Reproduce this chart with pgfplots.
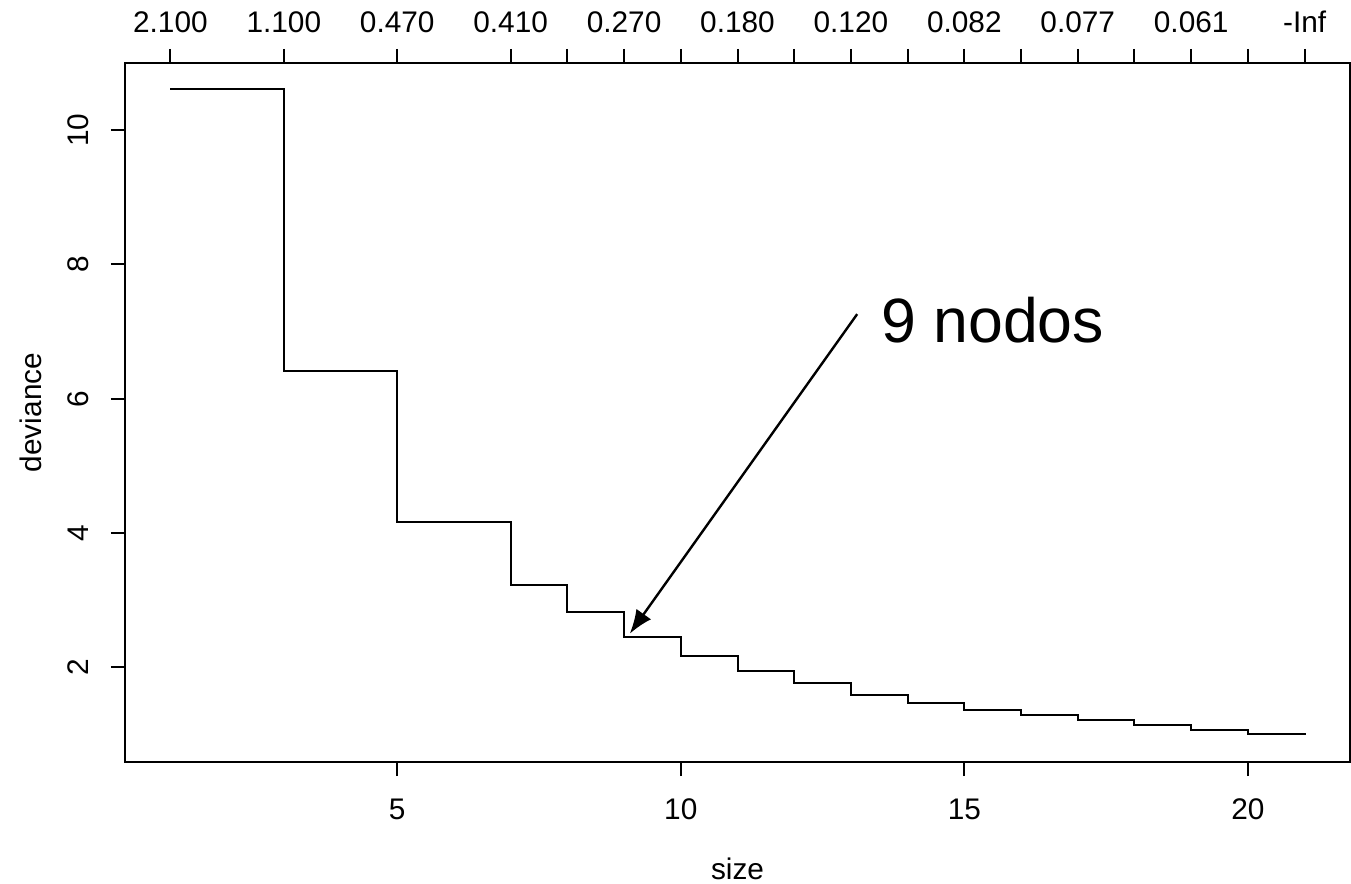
\documentclass[border=0pt]{standalone}
\usepackage{fontspec}
\setmainfont{Liberation Sans}
\usepackage{pgfplots}
\pgfplotsset{compat=1.18}
\usetikzlibrary{arrows.meta}
\begin{document}
\begin{tikzpicture}
\useasboundingbox (-62.5bp,-61bp) rectangle (613bp,381bp);
\pgfplotsset{
  common/.style={
    at={(0,0)}, anchor=south west, scale only axis,
    width=612.5bp, height=349.5bp,
    xmin=0.2, xmax=21.8, ymin=0.59, ymax=11.0,
    tick align=outside, major tick length=7bp,
    tick style={line width=1bp, black},
    axis line style={line width=1bp, black},
    ticklabel style={font=\fontsize{14.9bp}{17bp}\selectfont, text=black},
    /pgf/number format/assume math mode=true,
  }
}
\begin{axis}[common,
  xtick={5,10,15,20}, ytick={2,4,6,8,10},
  xtick pos=left, ytick pos=left,
  xticklabel style={anchor=north},
  yticklabel style={rotate=90, anchor=south},
  xticklabel shift=8bp, yticklabel shift=7.5bp,
  xlabel={size}, ylabel={deviance},
  label style={font=\fontsize{14.9bp}{17bp}\selectfont},
  xlabel style={at={(axis description cs:0.5,-0.1688)}, anchor=base},
  ylabel style={at={(axis description cs:-0.0685,0.5)}, anchor=base, rotate=0},
  clip=false,
]
\addplot[const plot, line width=1bp, black, mark=none] coordinates {
(1,10.61) (3,6.42) (5,4.17) (7,3.23) (8,2.82) (9,2.445) (10,2.165) (11,1.94)
(12,1.76) (13,1.595) (14,1.465) (15,1.37) (16,1.295) (17,1.215) (18,1.143)
(19,1.06) (20,1.005) (21,0.995)
};
\draw[line width=1.2bp, -{Latex[length=12bp,width=9bp]}] (axis cs:13.11,7.26) -- (axis cs:9.1,2.5);
\node[anchor=base west, inner sep=0pt, font=\fontsize{31.3bp}{36bp}\selectfont] at (axis cs:13.53,6.83) {9 nodos};
\end{axis}
\begin{axis}[common,
  axis x line*=top, axis y line=none,
  xtick={1,3,5,7,8,9,10,11,12,13,14,15,16,17,18,19,20,21},
  xticklabels={2.100,1.100,0.470,0.410,{},0.270,{},0.180,{},0.120,{},0.082,{},0.077,{},0.061,{},-Inf},
  xticklabel style={anchor=south},
  xticklabel shift=4.5bp,
]
\end{axis}
\end{tikzpicture}
\end{document}
